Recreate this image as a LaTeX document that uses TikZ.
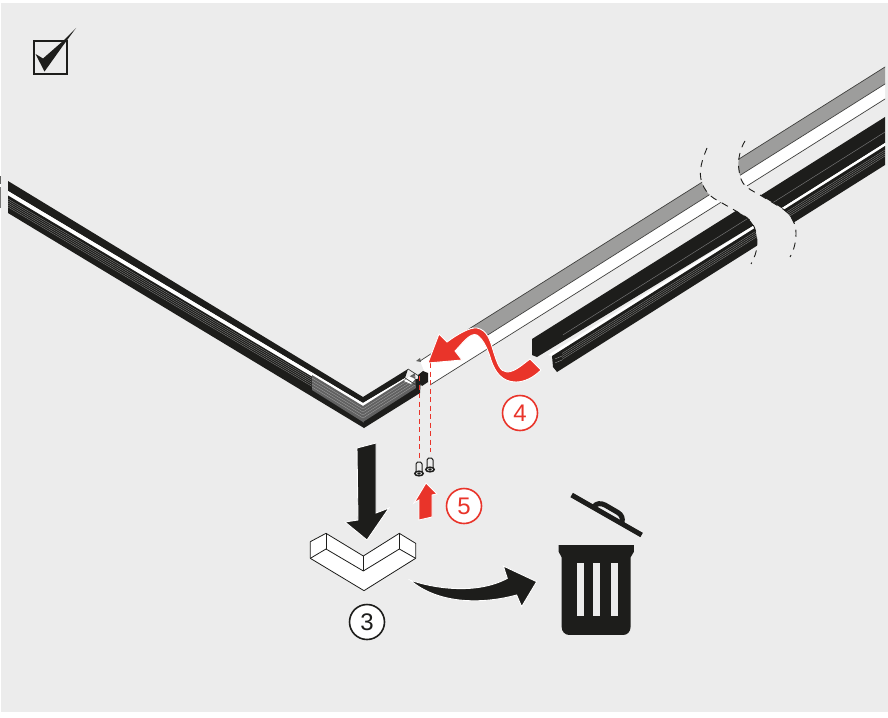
\documentclass[tikz,border=0pt]{standalone}
\usepackage{fontspec}
\setmainfont{Liberation Sans}
\definecolor{bgc}{HTML}{ECECEC}
\definecolor{ink}{HTML}{1D1D1B}
\definecolor{redc}{HTML}{E9342A}
\definecolor{grayc}{HTML}{9D9D9C}
\newcommand\RP[2]{(#2,{#1+0.63*(885-#2)})}
\tikzset{
  numred/.style={circle,draw=redc,fill=white,line width=1.6pt,minimum size=35pt,inner sep=0pt,text=redc,font=\fontsize{24}{24}\selectfont},
  numblk/.style={circle,draw=ink,fill=white,line width=1.6pt,minimum size=35pt,inner sep=0pt,text=ink,font=\fontsize{24}{24}\selectfont},
  redguide/.style={draw=redc,line width=0.9pt,dash pattern=on 5pt off 3.5pt},
  breakline/.style={draw=ink,line width=0.9pt,dash pattern=on 7pt off 6pt},
  hatchline/.style={draw=black!45,line width=0.3pt},
  edge/.style={draw=ink!85,line width=0.7pt},
  halo/.style={draw=white,line width=0.9pt,line join=miter},
}
\begin{document}
\begin{tikzpicture}[x=1pt,y=-1pt]
\useasboundingbox (0,0) rectangle (888,717);
\fill[white] (0,0) rectangle (888,717);
\fill[bgc] (1,3) rectangle (888,712);
% check box
\draw[ink,line width=2pt] (34,41.5) rectangle (66.5,74);
\fill[ink] (35.5,54) -- (43,58.5) -- (63,41) -- (76,28) -- (62,47) -- (44.5,71.5) -- cycle;
% small strip on the left border
\fill[ink!70] (0,176) rectangle (1,184);
\fill[ink!60] (0,187) rectangle (1,208);
% ---- left arm
\fill[ink] (8,181) -- (363,397) -- (363,403) -- (8,191) -- cycle;
\fill[white] (8,191) -- (363,403) -- (363,407) -- (8,195.5) -- cycle;
\fill[ink] (8,195.5) -- (363,407) -- (364,428) -- (8,213) -- cycle;
\foreach \o in {199,201,203,205,207}{
  \draw[hatchline] (8,\o) -- (312,{\o+0.59*304});
}
% ---- right arm, corner
\fill[ink] (363,397) -- (408,369) -- (405,378) -- (363,403) -- cycle;
\fill[white] (363,403) -- (405,378) -- (403,382) -- (363,407) -- cycle;
\fill[ink] (363,407) -- (403,382) -- (421,378) -- (420,393) -- (364,428) -- cycle;
% grey overlay of the corner piece
\fill[black!62] (312,375) -- (363,406) -- (415,373) -- (416,388) -- (363,422) -- (312,390) -- cycle;
\foreach \d in {3,6,9,12}{
  \draw[draw=black!35,line width=0.3pt] (312,{375+\d}) -- (363,{406+\d}) -- (415,{373+\d});
}
% white section of the rail
\fill[white] (420,361) -- (472,327) -- (483,338) -- \RP{84}{500} -- \RP{99}{500} -- (430,385) -- cycle;
\fill[white] (404,381) -- (409,376) -- (415,379) -- (411,384) -- cycle;
\draw[edge] (408,369) -- (422,378);
\draw[edge] (420,361) -- (472,327);
\draw[edge] (405,378) -- (416,385);
% screw block
\fill[ink] (418,375) -- (423,371) -- (428,373) -- (428,382) -- (422,386) -- (418,382) -- cycle;
\fill[ink!70] (416,361) -- (420,358) -- (421,362) -- cycle;
% ---- left piece of the right rail
\begin{scope}
\clip (300,100) -- (702,100) -- (702,183) .. controls (707,196) and (715,199) .. (722,203) -- (743,215) .. controls (755,222) and (757,232) .. (757,245) -- (757,300) -- (300,500) -- cycle;
\fill[grayc] (472,327) -- \RP{67}{760} -- \RP{84}{760} -- (483,338) -- cycle;
\fill[white] (483,338) -- \RP{84}{760} -- \RP{99}{760} -- (490,{99+0.63*395}) -- cycle;
\draw[edge] (472,327) -- \RP{67}{760};
\draw[edge] (483,338) -- \RP{84}{760};
\draw[edge] (430,385) -- \RP{99}{760};
% black cover
\fill[ink] (532,339) -- \RP{117}{770} -- \RP{143}{770} -- (537,357) -- (532,355) -- cycle;
\draw[black!55,line width=0.5pt] \RP{132}{563} -- \RP{132}{770};
\fill[white] (548,355) -- \RP{143}{770} -- \RP{146}{770} -- (552,356) -- cycle;
\fill[ink] (552,356) -- \RP{146}{770} -- \RP{165}{770} -- (557,372) -- (553,367) -- cycle;
\foreach \o in {150,152,154,156}{
  \draw[hatchline] \RP{\o}{562} -- \RP{\o}{770};
}
\draw[draw=black!30,line width=0.3pt] (555,359) -- (562,356);
\draw[draw=black!30,line width=0.3pt] (555,363) -- (562,360);
\end{scope}
% ---- right piece of the right rail
\begin{scope}
\clip (739,50) -- (885,50) -- (885,300) -- (795,300) -- (795,233) .. controls (795,222) and (790,213) .. (780,207) -- (760,195) .. controls (741,185) and (736,172) .. (739,158) -- cycle;
\fill[grayc] \RP{67}{725} -- \RP{67}{888} -- \RP{84}{888} -- \RP{84}{725} -- cycle;
\fill[white] \RP{84}{725} -- \RP{84}{888} -- \RP{99}{888} -- \RP{99}{725} -- cycle;
\draw[edge] \RP{67}{725} -- \RP{67}{888};
\draw[edge] \RP{84}{725} -- \RP{84}{888};
\draw[edge] \RP{99}{725} -- \RP{99}{888};
\fill[ink] \RP{117}{725} -- \RP{117}{888} -- \RP{143}{888} -- \RP{143}{725} -- cycle;
\draw[black!55,line width=0.5pt] \RP{132}{725} -- \RP{132}{888};
\fill[white] \RP{143}{725} -- \RP{143}{888} -- \RP{146}{888} -- \RP{146}{725} -- cycle;
\fill[ink] \RP{146}{725} -- \RP{146}{888} -- \RP{165}{888} -- \RP{165}{725} -- cycle;
\foreach \o in {150,152,154,156}{
  \draw[hatchline] \RP{\o}{725} -- \RP{\o}{888};
}
\end{scope}
% break lines
\draw[breakline] (707,148) .. controls (702,160) and (698,172) .. (702,183) .. controls (707,196) and (715,199) .. (722,203) -- (743,215) .. controls (755,222) and (757,232) .. (757,245) .. controls (757,252) and (754,258) .. (751,264);
\draw[breakline] (745,141) .. controls (741,147) and (737,160) .. (739,170) .. controls (741,185) and (745,187) .. (760,195) -- (780,207) .. controls (790,213) and (796,222) .. (796,233) .. controls (796,242) and (794,250) .. (790,257);
% screws and guides
\coordinate (s1top) at (419,376);
\coordinate (s1end) at (419,458);
\coordinate (s2top) at (430,363);
\coordinate (s2end) at (430,452);
\draw[redguide] (s1top) -- (s1end);
\draw[redguide] (s2top) -- (s2end);
\foreach \sx/\sy in {419/462,430/458}{
  \draw[ink,line width=1pt,fill=bgc] (\sx-3,\sy+10) -- (\sx-3,\sy+2) -- (\sx-1.5,\sy) -- (\sx+1.5,\sy) -- (\sx+3,\sy+2) -- (\sx+3,\sy+10);
  \draw[ink,line width=1.5pt,fill=bgc] (\sx,\sy+11.5) ellipse (4.2 and 2.3);
  \fill[ink] (\sx,\sy+11.5) ellipse (1.8 and 1.3);
}
% red swoosh arrow
\draw[halo,fill=redc] (428,363) -- (439,334) -- (447,342) .. controls (458,334) and (470,327) .. (477,328) .. controls (487,330) and (490,340) .. (493,350) .. controls (497,363) and (500,372) .. (507,372) .. controls (515,372) and (523,364) .. (530,359) -- (541,370) .. controls (534,377) and (525,382) .. (516,382) .. controls (502,382) and (495,372) .. (491,360) .. controls (488,350) and (484,340) .. (477,335) .. controls (470,332) and (462,344) .. (455,351) -- (462,360) -- cycle;
% red up arrow
\draw[halo,fill=redc] (426,483) -- (437,494) -- (432,495) -- (432,517) -- (419,520) -- (419,500) -- (414,503) -- cycle;
% black down arrow
\draw[halo,fill=ink] (357,448) -- (376,443) -- (376,513) -- (389,508) -- (367,540) -- (345,522) -- (358,520) -- cycle;
% end-cap piece
\begin{scope}[shift={(290,480)},scale=0.3333]
\draw[ink,line width=0.8pt,fill=white,line join=round] (61,185) -- (108,160) -- (220,228) -- (328,160) -- (377,190) -- (377,235) -- (222,332) -- (61,235) -- cycle;
\draw[ink,line width=0.8pt] (61,235) -- (108,207) -- (220,273) -- (328,207) -- (377,235);
\draw[ink,line width=0.8pt] (108,160) -- (108,207);
\draw[ink,line width=0.8pt] (220,228) -- (220,273);
\draw[ink,line width=0.8pt] (328,160) -- (328,207);
% curved arrow
\draw[halo,fill=ink] (360,300) .. controls (430,325) and (560,345) .. (652,295) -- (640,258) -- (740,305) -- (695,380) -- (680,345) .. controls (570,375) and (440,370) .. (360,300) -- cycle;
% bin lid
\draw[ink,line width=5pt] (845,45) -- (1055,165);
\draw[ink,line width=5pt,line join=round] (912,80) .. controls (918,70) and (932,68) .. (945,75) -- (983,97) .. controls (996,105) and (999,115) .. (996,128);
% bin body
\fill[ink] (806,195) -- (1032,195) -- (1032,215) -- (1022,232) -- (1022,440) .. controls (1022,455) and (1012,465) .. (1000,465) -- (838,465) .. controls (825,465) and (815,455) .. (815,440) -- (815,232) -- (806,215) -- cycle;
\fill[bgc] (860,248) rectangle (881,408);
\fill[bgc] (909,248) rectangle (930,408);
\fill[bgc] (963,248) rectangle (984,408);
\end{scope}
% numbers
\node[numred] (n4) at (520,413) {4};
\node[numred] (n5) at (464,506) {5};
\node[numblk] (n3) at (367,622) {3};
\end{tikzpicture}
\end{document}
